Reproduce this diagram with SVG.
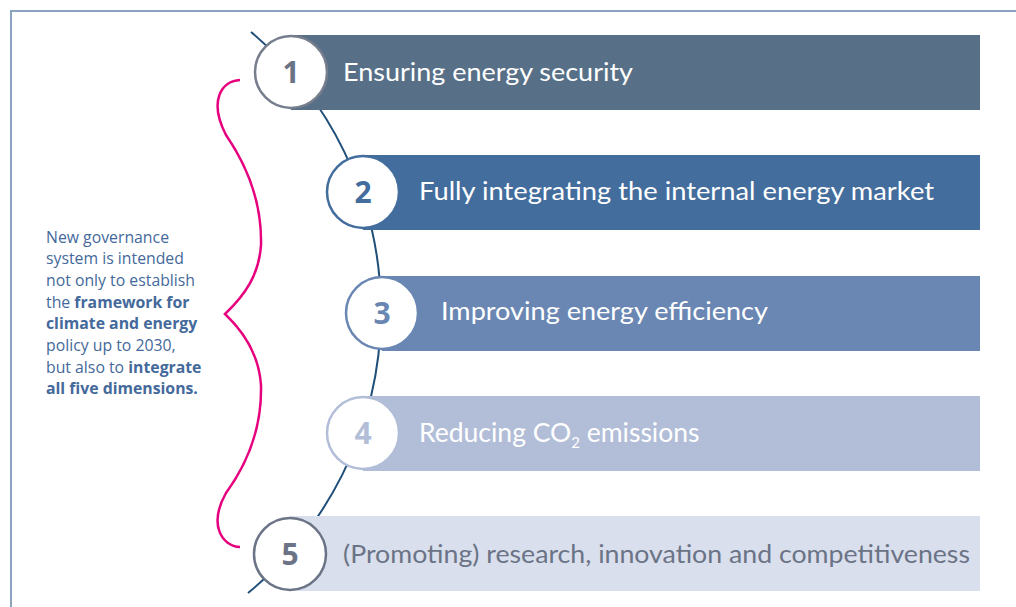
<svg xmlns="http://www.w3.org/2000/svg" width="1016" height="607" viewBox="0 0 1016 607">
<style>
.bar-text{font-family:Lato,"Open Sans",sans-serif;font-size:25.5px;fill:#ffffff}
.num{font-family:"Open Sans",Lato,sans-serif;font-size:30px;font-weight:bold;text-anchor:middle}
.circ{fill:#ffffff;stroke-width:2.5}
.side{font-family:"Open Sans",Lato,sans-serif;font-size:15.8px;fill:#44699b}
.b{font-weight:bold}
</style>
<rect x="11" y="11" width="1020" height="610" fill="#ffffff" stroke="#8aa4c0" stroke-width="2"/>
<g id="connectors">
<path d="M251,32 A365,365 0 0 1 248,593" fill="none" stroke="#1f4e79" stroke-width="2"/>
<path d="M240,80 C222,81 208,100 226,135 C250,170 262,205 261,245 C259,275 245,295 225,314 C245,333 259,355 261,385 C262,425 250,460 226,493 C208,525 222,546 240,547" fill="none" stroke="#e6007e" stroke-width="2.5"/>
</g>
<g id="node1">
<rect x="291" y="35" width="689" height="75" fill="#577087"/>
<circle class="circ" cx="291" cy="72" r="36" stroke="#767e8e"/>
<text class="num" x="291" y="83" fill="#6b7386">1</text>
<text class="bar-text" x="343" y="81" textLength="290" lengthAdjust="spacingAndGlyphs">Ensuring energy security</text>
</g>
<g id="node2">
<rect x="363" y="155" width="617" height="75" fill="#436d9d"/>
<circle class="circ" cx="363" cy="192" r="36" stroke="#436d9d"/>
<text class="num" x="363" y="203" fill="#436d9d">2</text>
<text class="bar-text" x="419" y="200" textLength="515" lengthAdjust="spacingAndGlyphs">Fully integrating the internal energy market</text>
</g>
<g id="node3">
<rect x="382" y="276" width="598" height="75" fill="#6a87b3"/>
<circle class="circ" cx="382" cy="313" r="36" stroke="#6a87b3"/>
<text class="num" x="382" y="324" fill="#6a87b3">3</text>
<text class="bar-text" x="441" y="320" textLength="327" lengthAdjust="spacingAndGlyphs">Improving energy efficiency</text>
</g>
<g id="node4">
<rect x="363" y="396" width="617" height="75" fill="#b2bed8"/>
<circle class="circ" cx="363" cy="433" r="36" stroke="#b2bed8"/>
<text class="num" x="363" y="444" fill="#b2bed8">4</text>
<text class="bar-text" x="419" y="442" font-size="26.5px" style="font-size:26.5px">Reducing CO<tspan font-size="15" style="font-size:15px" dy="6">2</tspan><tspan dy="-6"> emissions</tspan></text>
</g>
<g id="node5">
<rect x="290" y="516" width="690" height="75" fill="#d9dfec"/>
<circle class="circ" cx="290" cy="554" r="36" stroke="#6b7386"/>
<text class="num" x="290" y="565" fill="#6b7386">5</text>
<text class="bar-text" x="343" y="563" style="fill:#6b7386" textLength="627" lengthAdjust="spacingAndGlyphs">(Promoting) research, innovation and competitiveness</text>
</g>
<g id="note">
<text class="side" x="46" y="243">New governance</text>
<text class="side" x="46" y="264">system is intended</text>
<text class="side" x="46" y="286">not only to establish</text>
<text class="side" x="46" y="308">the <tspan class="b">framework for</tspan></text>
<text class="side b" x="46" y="329">climate and energy</text>
<text class="side" x="46" y="351">policy up to 2030,</text>
<text class="side" x="46" y="373">but also to <tspan class="b">integrate</tspan></text>
<text class="side b" x="46" y="394">all five dimensions.</text>
</g>
</svg>
